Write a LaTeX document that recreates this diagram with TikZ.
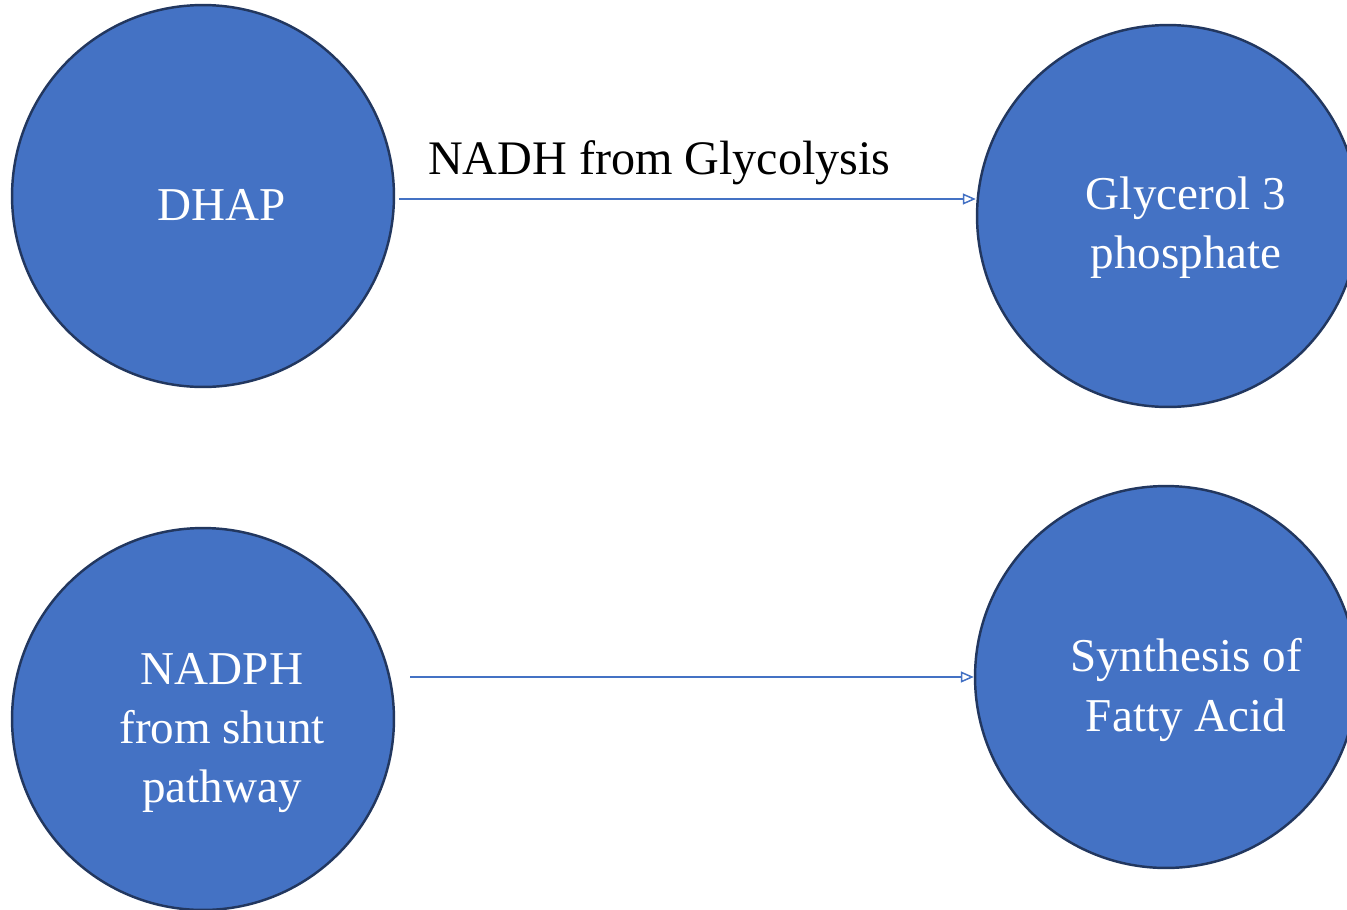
\documentclass[tikz,border=0pt]{standalone}
\usepackage{fontspec}
\setmainfont{Liberation Serif}
\usepackage{tikz}
\usetikzlibrary{arrows.meta}
\definecolor{cellblue}{HTML}{4472C4}
\definecolor{cellrim}{HTML}{22375F}
\tikzstyle{pool} = [circle, draw=cellrim, line width=1.4pt, fill=cellblue,
    minimum size=7.64cm, inner sep=0pt]
\tikzstyle{pooltext} = [text=white, align=center, inner sep=0pt,
    font=\fontsize{26.8}{33.6}\selectfont]
\tikzstyle{line} = [draw=cellblue, line width=0.85pt,
    -{Triangle[open, length=0.26cm, width=0.22cm]}]

\begin{document}
\begin{tikzpicture}[x=0.02cm, y=-0.02cm]
    \useasboundingbox (0,0) rectangle (1347,910);
    % Place nodes
    \node [pool] (dhap) at (203,196) {};
    \node [pool] (glyc) at (1168,216) {};
    \node [pool] (nadph) at (203,719) {};
    \node [pool] (synth) at (1166,677) {};
    \node [pooltext] (dhaptxt) at (222,205) {DHAP};
    \node [pooltext] (glyctxt) at (1186,228) {Glycerol 3\\phosphate};
    \node [pooltext] (nadphtxt) at (222,733) {NADPH\\from shunt\\pathway};
    \node [pooltext] (synthtxt) at (1186,690) {Synthesis of\\Fatty Acid};
    % Draw edges
    \path [line, shorten <=0.08cm] ([yshift=-0.06cm]dhap.east) -- node [pos=0.455, above=0.26cm, inner sep=0pt,
        font=\fontsize{27.4}{33.6}\selectfont] (nadhlbl) {NADH from Glycolysis} ([yshift=-0.06cm]dhap.east -| glyc.west);
    \path [line, shorten <=0.3cm] (nadph.east |- synth.west) -- (synth.west);
\end{tikzpicture}
\end{document}
